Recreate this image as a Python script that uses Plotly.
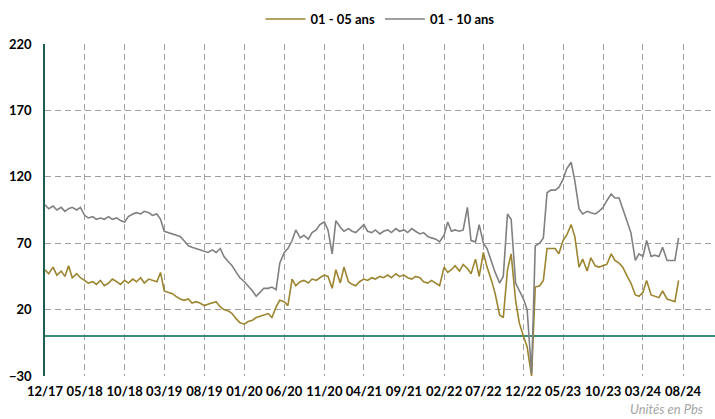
#!/usr/bin/env python
# coding: utf-8

import pandas as pd
import plotly.graph_objs as go

# two points per month, 12/17 -> 07/24
dates = pd.date_range("2017-12-01", periods=160, freq="SMS")

spread_1_5 = [
    50, 47, 52, 46, 49, 45, 53, 44, 47, 44,
    42, 40, 41, 39, 42, 38, 40, 43, 41, 39,
    42, 40, 43, 41, 44, 40, 43, 42, 41, 48,
    34, 33, 32, 30, 28, 27, 28, 25, 26, 25,
    23, 24, 25, 26, 22, 20, 19, 17, 13, 10,
    9, 11, 12, 14, 15, 16, 17, 14, 22, 27,
    26, 23, 43, 38, 41, 42, 40, 43, 42, 44,
    46, 45, 36, 50, 40, 52, 41, 39, 38, 41,
    43, 42, 44, 43, 45, 44, 46, 44, 47, 45,
    46, 44, 43, 45, 44, 41, 40, 42, 40, 38,
    52, 48, 50, 53, 49, 54, 51, 47, 58, 45,
    63, 52, 42, 32, 16, 14, 50, 62, 27, 10,
    0, -8, -30, 37, 38, 42, 66, 66, 66, 62,
    72, 76, 84, 75, 52, 58, 49, 59, 53, 52,
    53, 54, 62, 57, 55, 52, 45, 40, 31, 30,
    33, 42, 31, 30, 29, 34, 28, 27, 26, 42,
]

spread_1_10 = [
    99, 96, 98, 95, 97, 94, 96, 97, 95, 97,
    91, 89, 90, 88, 89, 88, 90, 88, 89, 87,
    86, 90, 92, 93, 92, 94, 93, 91, 92, 88,
    79, 78, 77, 76, 75, 72, 68, 67, 66, 65,
    64, 63, 65, 63, 66, 60, 56, 53, 48, 44,
    41, 38, 34, 30, 33, 36, 36, 37, 35, 55,
    63, 66, 72, 80, 74, 76, 73, 78, 80, 84,
    86, 80, 62, 87, 82, 79, 81, 79, 78, 81,
    84, 79, 78, 80, 77, 79, 80, 78, 81, 79,
    80, 78, 81, 79, 77, 78, 75, 74, 73, 71,
    76, 86, 79, 80, 79, 80, 97, 72, 71, 84,
    70, 66, 56, 48, 40, 45, 92, 88, 40, 34,
    28, 20, -28, 68, 70, 74, 108, 110, 110, 112,
    118, 126, 131, 117, 96, 92, 94, 93, 92, 94,
    97, 102, 107, 104, 104, 96, 86, 78, 57, 62,
    60, 72, 60, 61, 60, 67, 57, 57, 57, 74,
]

GOLD = "#9C8530"
GREY = "#808080"
FONT = "Lato"
GRID = "#A0A0A0"

fig = go.Figure()

fig.add_trace(go.Scatter(
    x=dates,
    y=spread_1_5,
    mode="lines",
    name="01 - 05 ans",
    line=dict(color=GOLD, width=1.6),
))

fig.add_trace(go.Scatter(
    x=dates,
    y=spread_1_10,
    mode="lines",
    name="01 - 10 ans",
    line=dict(color=GREY, width=1.6),
))

fig.update_layout(
    width=715,
    height=419,
    margin=dict(l=45, r=0, t=44, b=43, autoexpand=False),
    paper_bgcolor="white",
    plot_bgcolor="white",
    font=dict(family=FONT, size=13, color="black"),
    showlegend=True,
    legend=dict(
        orientation="h",
        x=0.5,
        xanchor="center",
        y=1.075,
        yanchor="middle",
        font=dict(family=FONT, size=13, color="black", weight="bold"),
        itemwidth=40,
        bgcolor="rgba(0,0,0,0)",
    ),
    annotations=[dict(
        text="Unités en Pbs",
        xref="paper", yref="paper",
        x=0.985, y=-0.1,
        xanchor="right", yanchor="middle",
        showarrow=False,
        font=dict(family=FONT, size=13, color="#A6A6A6", style="italic"),
    )],
)

fig.update_xaxes(
    range=["2017-12-01", "2024-12-01"],
    tick0="2017-12-01",
    dtick="M5",
    tickformat="%m/%y",
    tickfont=dict(family=FONT, size=13, color="black", weight="bold"),
    ticklabelstandoff=6,
    automargin=False,
    showgrid=True,
    gridcolor=GRID,
    griddash="6px,4px",
    gridwidth=1,
    showline=False,
    zeroline=False,
)

fig.update_yaxes(
    range=[-30, 220],
    tick0=-30,
    dtick=50,
    tickfont=dict(family=FONT, size=13, color="black", weight="bold"),
    ticklabelstandoff=9,
    automargin=False,
    showgrid=True,
    gridcolor=GRID,
    griddash="6px,4px",
    gridwidth=1,
    showline=True,
    linecolor="#1E5E4E",
    linewidth=1.5,
    zeroline=True,
    zerolinecolor="#3E8C7A",
    zerolinewidth=2,
)

# drop the page's default body margin so the fixed-size figure sits at 0,0
fig.write_html(
    "out.html",
    config={"displayModeBar": False},
    post_script="document.body.style.margin='0';",
)
